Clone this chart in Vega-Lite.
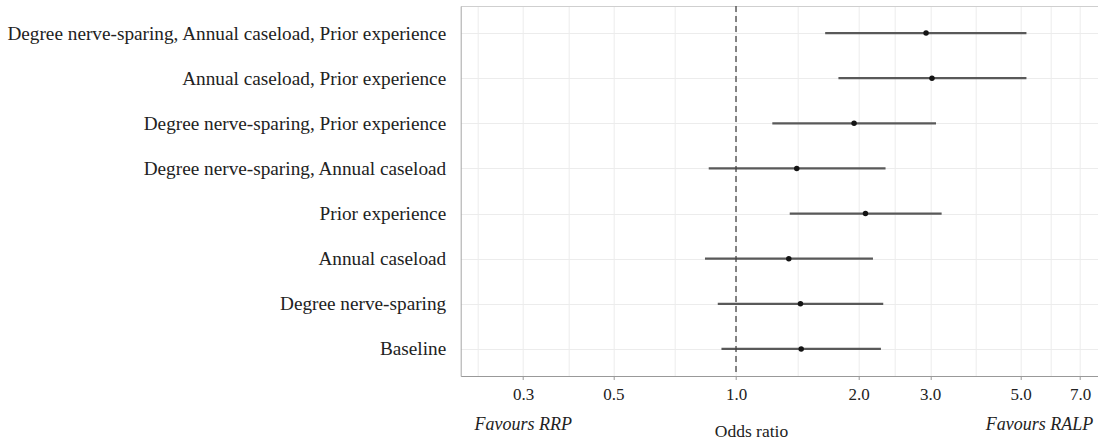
{
  "$schema": "https://vega.github.io/schema/vega-lite/v6.json",
  "autosize": {"type": "none"},
  "padding": {"left": 460.7, "top": 6, "right": 0, "bottom": 65},
  "width": 637.3,
  "height": 370,
  "config": {
    "font": "Liberation Serif",
    "view": {"stroke": null},
    "axis": {"labelFont": "Liberation Serif", "titleFont": "Liberation Serif"}
  },
  "resolve": {"axis": {"x": "independent"}},
  "layer": [
    {
      "data": {"name": "est"},
      "mark": {"type": "rule", "color": "#595959", "strokeWidth": 2.2},
      "encoding": {
        "y": {
          "field": "label", "type": "nominal", "sort": null,
          "scale": {"type": "point", "padding": 0.6},
          "axis": {
            "title": null, "ticks": false, "domain": true, "domainColor": "#a6a6a6", "domainWidth": 1,
            "grid": true, "gridColor": "#ececec", "gridWidth": 1,
            "labelFontSize": 19.25, "labelColor": "#222222", "labelPadding": 15, "labelLimit": 1000,
            "labelExpr": "datum.value == 'Baseline' ? 'Baseline\u00a0' : datum.value"
          }
        },
        "x": {
          "field": "lower", "type": "quantitative",
          "scale": {"type": "log", "domain": [0.2107, 7.75], "nice": false, "zero": false},
          "axis": {
            "orient": "bottom", "values": [0.3, 0.5, 1, 2, 3, 5, 7], "format": ".1f",
            "grid": false, "domainColor": "#999999", "domainWidth": 1,
            "tickColor": "#999999", "tickSize": 3.5, "tickWidth": 1,
            "labelFontSize": 17, "labelColor": "#222222", "labelPadding": 7,
            "title": "Odds ratio", "titleFontSize": 17.5, "titleFontWeight": "normal", "titleColor": "#222222",
            "titleX": 290.3, "titleY": 60, "titleAlign": "center", "titleBaseline": "alphabetic"
          }
        },
        "x2": {"field": "upper"}
      }
    },
    {
      "data": {"name": "est"},
      "mark": {"type": "point", "shape": "circle", "filled": true, "color": "#141414", "opacity": 1, "size": 30},
      "encoding": {
        "y": {"field": "label", "type": "nominal", "sort": null},
        "x": {
          "field": "or", "type": "quantitative",
          "axis": {
            "orient": "top", "values": [0.2324, 0.3, 0.3873, 0.5, 0.7071, 1, 1.4142, 2, 2.4495, 3, 3.873, 5, 5.9161, 7],
            "labels": false, "ticks": false, "title": null,
            "domain": true, "domainColor": "#cfcfcf", "domainWidth": 1,
            "grid": true, "gridColor": "#ececec", "gridWidth": 1
          }
        }
      }
    },
    {
      "data": {"name": "ref"},
      "mark": {"type": "rule", "color": "#444444", "strokeWidth": 1.3, "strokeDash": [6, 4]},
      "encoding": {"x": {"field": "ref", "type": "quantitative", "axis": null}}
    },
    {
      "data": {"name": "notes"},
      "mark": {"type": "text", "fontStyle": "italic", "fontSize": 18, "color": "#222222", "align": "center", "baseline": "alphabetic", "dy": 81},
      "encoding": {
        "x": {"field": "pos", "type": "quantitative", "axis": null},
        "y": {"field": "row", "type": "nominal", "sort": null},
        "text": {"field": "note"}
      }
    }
  ],
  "datasets": {
    "est": [
      {"label": "Degree nerve-sparing, Annual caseload, Prior experience", "or": 2.93, "lower": 1.656, "upper": 5.17},
      {"label": "Annual caseload, Prior experience", "or": 3.03, "lower": 1.785, "upper": 5.17},
      {"label": "Degree nerve-sparing, Prior experience", "or": 1.95, "lower": 1.228, "upper": 3.10},
      {"label": "Degree nerve-sparing, Annual caseload", "or": 1.41, "lower": 0.857, "upper": 2.33},
      {"label": "Prior experience", "or": 2.08, "lower": 1.355, "upper": 3.20},
      {"label": "Annual caseload", "or": 1.348, "lower": 0.839, "upper": 2.17},
      {"label": "Degree nerve-sparing", "or": 1.44, "lower": 0.902, "upper": 2.30},
      {"label": "Baseline", "or": 1.446, "lower": 0.921, "upper": 2.27}
    ],
    "ref": [{"ref": 1}],
    "notes": [
      {"note": "Favours RRP", "pos": 0.3, "row": "Baseline"},
      {"note": "Favours RALP", "pos": 5.57, "row": "Baseline"}
    ]
  }
}
